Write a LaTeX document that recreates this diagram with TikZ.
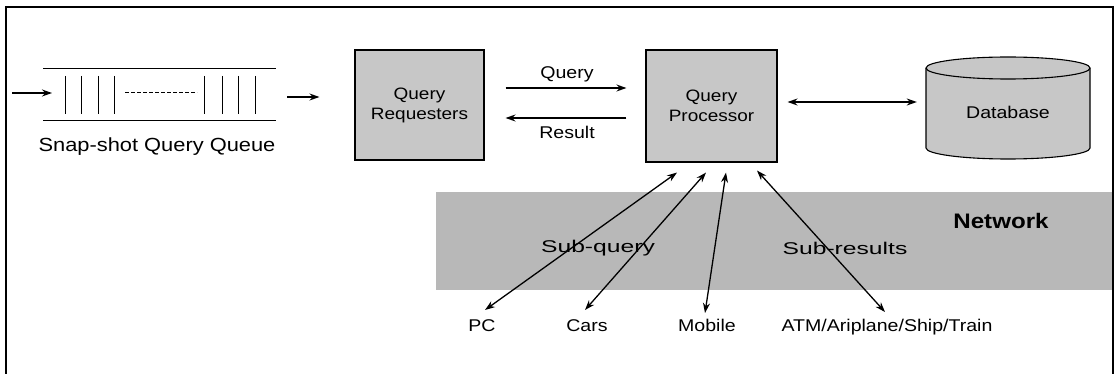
\documentclass[tikz,border=0pt]{standalone}
\usepackage{fontspec}
\setmainfont{Liberation Sans}[FakeStretch=1.15]
\newfontfamily\widefont{Liberation Sans}[FakeStretch=1.45]
\usetikzlibrary{arrows.meta}
\definecolor{boxgray}{gray}{0.78}
\definecolor{netgray}{gray}{0.72}
\tikzset{
  lbl/.style={font=\fontsize{17}{19}\selectfont, inner sep=1pt},
  widelbl/.style={font=\widefont\fontsize{17}{19}\selectfont, inner sep=1pt},
  procbox/.style={draw, line width=1.1pt, fill=boxgray, align=center, inner sep=2pt,
    font=\fontsize{16.5}{20}\selectfont},
  arr/.style={line width=1.3pt, -{Stealth[length=10pt,width=7pt]}},
  dbl/.style={line width=1.3pt, {Stealth[length=10pt,width=7pt]}-{Stealth[length=10pt,width=7pt]}},
  thin line/.style={line width=1pt}
}
\begin{document}
\begin{tikzpicture}[x=1pt,y=-1pt]
\useasboundingbox (0,0) rectangle (1119,374);
% outer frame (no bottom edge)
\draw[line width=1.1pt] (6,380) -- (6,7) -- (1113,7) -- (1113,380);

% network band
\fill[netgray] (436,192) rectangle (1112,290);
\node[font=\bfseries\fontsize{21}{23}\selectfont, inner sep=0pt] (net) at (1001,221) {Network};
\node[widelbl] (subq) at (598,248) {Sub-query};
\node[widelbl] (subr) at (845,248) {Sub-results};

% queue
\draw[thin line] (43,69) -- (276,69);
\draw[thin line] (43,121) -- (276,121);
\foreach \x in {65,81,98,114,204,222,238,255}
  \draw[thin line] (\x,76) -- (\x,114);
\draw[thin line, dash pattern=on 4pt off 2pt] (125,93) -- (197,93);
\coordinate (qin) at (12,93);
\coordinate (qinend) at (52,93);
\draw[arr] (qin) -- (qinend);
\node[lbl, font=\fontsize{19}{21}\selectfont] (qlabel) at (157,147) {Snap-shot Query Queue};
\coordinate (qout) at (287,97);

% boxes
\node[procbox, minimum width=129pt, minimum height=110pt] (qr) at (419.5,105) {Query\\Requesters};
\node[procbox, minimum width=131pt, minimum height=112pt] (qp) at (711.5,106) {Query\\Processor};

% database cylinder
\fill[boxgray] (926,68) -- (926,148) arc[start angle=180,end angle=360,x radius=82pt,y radius=11pt]
  -- (1090,68) arc[start angle=0,end angle=180,x radius=82pt,y radius=11pt] -- cycle;
\draw[line width=1.1pt] (926,68) -- (926,148) arc[start angle=180,end angle=360,x radius=82pt,y radius=11pt]
  -- (1090,68) arc[start angle=0,end angle=180,x radius=82pt,y radius=11pt];
\draw[line width=1.1pt] (926,68) arc[start angle=180,end angle=360,x radius=82pt,y radius=11pt];
\node[font=\fontsize{17}{19}\selectfont, minimum width=164pt, minimum height=102pt, inner sep=0pt] (db) at (1008,112) {Database};

% top connectors
\draw[arr] (qout) -- ([xshift=-35pt,yshift=8pt]qr.west);
\draw[arr] ([xshift=21pt,yshift=17pt]qr.east) -- ([xshift=-19pt,yshift=18pt]qp.west);
\draw[arr] ([xshift=-19pt,yshift=-12pt]qp.west) -- ([xshift=21pt,yshift=-13pt]qr.east);
\node[lbl] (lq) at (567,74) {Query};
\node[lbl] (lr) at (567,132) {Result};
\draw[dbl] ([xshift=10pt,yshift=4pt]qp.east) -- ([xshift=-9pt,yshift=10pt]db.west);

% bottom labels
\node[lbl, anchor=north] (pc) at (482,318) {PC};
\node[lbl, anchor=north] (cars) at (587,318) {Cars};
\node[lbl, anchor=north] (mob) at (707,318) {Mobile};
\node[lbl, anchor=north] (atm) at (887,318) {ATM/Ariplane/Ship/Train};

\draw[dbl] ([xshift=3pt,yshift=8pt]pc.north) -- ([xshift=-34.5pt,yshift=-10pt]qp.south);
\draw[dbl] ([xshift=-2pt,yshift=8pt]cars.north) -- ([xshift=-5.5pt,yshift=-10pt]qp.south);
\draw[dbl] ([xshift=-2pt,yshift=5pt]mob.north) -- ([xshift=14.5pt,yshift=-10pt]qp.south);
\draw[dbl] ([xshift=-2pt,yshift=6pt]atm.north) -- ([xshift=45.5pt,yshift=-8pt]qp.south);
\end{tikzpicture}
\end{document}
